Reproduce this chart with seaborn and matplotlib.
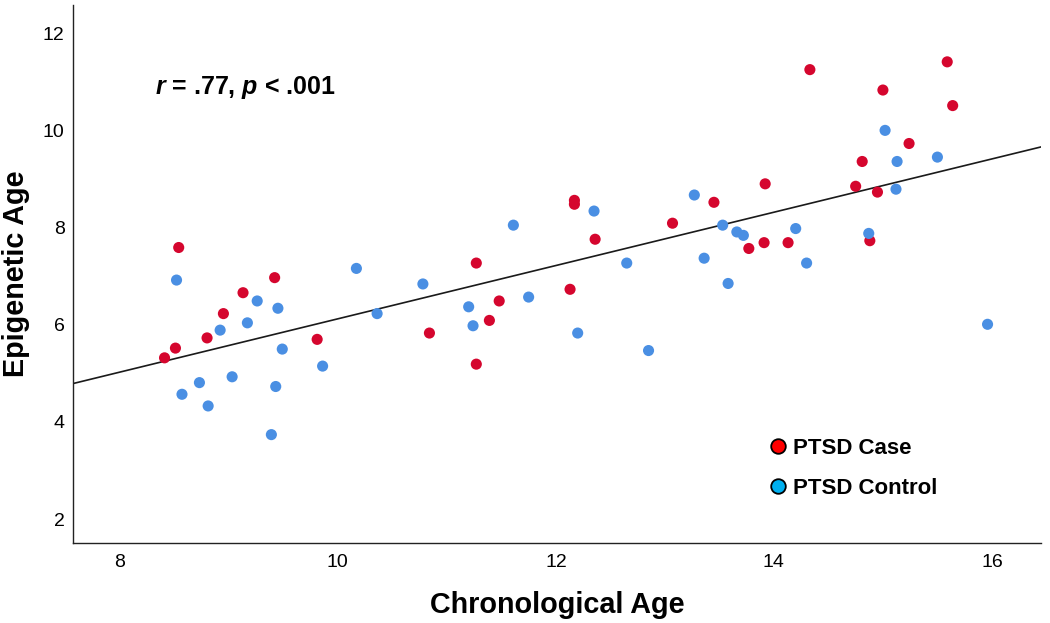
import numpy as np
import pandas as pd
import matplotlib
matplotlib.use("Agg")
import matplotlib.pyplot as plt
from matplotlib.lines import Line2D
import seaborn as sns

# ---- data ----
case_age = [8.54, 9.42, 9.13, 8.95, 8.80, 8.51, 8.41, 9.81, 11.27, 10.84,
            11.48, 11.39, 11.27, 12.17, 12.17, 12.36, 12.13, 13.07, 13.45, 13.77,
            13.91, 13.92, 14.13, 14.33, 15.00, 15.59, 15.64, 15.24, 14.81, 14.75,
            14.95, 14.88]
case_epi = [7.59, 6.97, 6.66, 6.23, 5.73, 5.52, 5.32, 5.70, 7.27, 5.83,
            6.49, 6.09, 5.19, 8.56, 8.48, 7.76, 6.73, 8.09, 8.52, 7.57,
            7.69, 8.90, 7.69, 11.25, 10.83, 11.41, 10.51, 9.73, 9.36, 8.85,
            8.73, 7.73]
ctrl_age = [8.52, 10.17, 9.26, 9.45, 9.17, 8.92, 10.36, 9.49, 9.86, 9.03,
            8.73, 8.57, 9.43, 8.81, 9.39, 10.78, 11.61, 11.20, 11.75, 11.24,
            12.35, 12.20, 12.65, 12.85, 13.27, 13.53, 13.66, 13.72, 13.36, 13.58,
            14.20, 14.30, 15.02, 15.13, 15.50, 15.12, 14.87, 15.96]
ctrl_epi = [6.92, 7.16, 6.49, 6.34, 6.04, 5.89, 6.23, 5.50, 5.15, 4.93,
            4.81, 4.57, 4.73, 4.33, 3.74, 6.84, 8.05, 6.37, 6.57, 5.98,
            8.34, 5.83, 7.27, 5.47, 8.67, 8.05, 7.91, 7.84, 7.37, 6.85,
            7.98, 7.27, 10.00, 9.36, 9.45, 8.79, 7.88, 6.01]
groups = ["PTSD Case", "PTSD Control"]
x_ticks = [8, 10, 12, 14, 16]
y_ticks = [2, 4, 6, 8, 10, 12]
stat_text = r"$r$ = .77, $p$ < .001"

df = pd.DataFrame({
    "Chronological Age": case_age + ctrl_age,
    "Epigenetic Age": case_epi + ctrl_epi,
    "Group": [groups[0]] * len(case_age) + [groups[1]] * len(ctrl_age),
})

# ---- style ----
sns.set_style("white")
plt.rcParams["font.family"] = ["Liberation Sans", "DejaVu Sans"]
plt.rcParams["mathtext.fontset"] = "custom"
plt.rcParams["mathtext.it"] = "Liberation Sans:italic:bold"
plt.rcParams["mathtext.rm"] = "Liberation Sans:bold"
plt.rcParams["text.color"] = "black"
plt.rcParams["axes.labelcolor"] = "black"
plt.rcParams["xtick.color"] = "black"
plt.rcParams["ytick.color"] = "black"

point_colors = {"PTSD Case": "#D5062E", "PTSD Control": "#4A8FE3"}
legend_colors = {"PTSD Case": "#FF0000", "PTSD Control": "#00B0F0"}

fig = plt.figure(figsize=(10.5, 6.23), dpi=100)
ax = fig.add_axes([0.0695, 0.1284, 0.9219, 0.8636])
ax.set_xlim(7.57, 16.45)
ax.set_ylim(1.51, 12.58)

sns.scatterplot(data=df, x="Chronological Age", y="Epigenetic Age", hue="Group",
                palette=point_colors, s=64, linewidth=0, ax=ax, legend=False,
                zorder=3)
sns.regplot(data=df, x="Chronological Age", y="Epigenetic Age", scatter=False,
            ci=None, truncate=False, ax=ax,
            line_kws={"color": "#1a1a1a", "linewidth": 1.2, "zorder": 2})
ax.set_xlim(7.57, 16.45)
ax.set_ylim(1.51, 12.58)

ax.set_xticks(x_ticks)
ax.set_yticks(y_ticks)
ax.tick_params(axis="both", length=0, labelsize=14, colors="black")
ax.tick_params(axis="x", pad=8)
ax.tick_params(axis="y", pad=6)
for side in ["top", "right"]:
    ax.spines[side].set_visible(False)
for side in ["left", "bottom"]:
    ax.spines[side].set_color("#222222")
    ax.spines[side].set_linewidth(1.0)

ax.set_xlabel("Chronological Age", fontsize=20.7, fontweight="bold",
              labelpad=14, color="black")
ax.set_ylabel("Epigenetic Age", fontsize=20.7, fontweight="bold",
              labelpad=9, color="black")

ax.text(0.085, 0.846, stat_text, transform=ax.transAxes, fontsize=18,
        fontweight="bold", ha="left", va="center", color="black")

handles = [Line2D([0], [0], marker="o", linestyle="none", markersize=10.5,
                  markerfacecolor=legend_colors[g], markeredgecolor="black",
                  markeredgewidth=1.3, label=g) for g in groups]
leg = ax.legend(handles=handles, loc="upper left", bbox_to_anchor=(0.705, 0.212),
                frameon=False, prop={"weight": "bold", "size": 16},
                handletextpad=0.1, labelspacing=0.85, borderaxespad=0,
                handlelength=1.2)
for t in leg.get_texts():
    t.set_color("black")

fig.savefig("out.png", dpi=100)
